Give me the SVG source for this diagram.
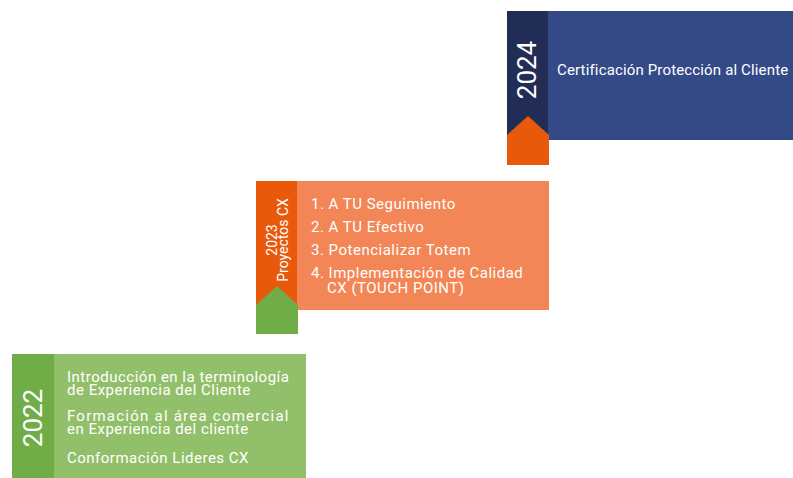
<svg xmlns="http://www.w3.org/2000/svg" width="793" height="478" viewBox="0 0 793 478">
<style>
.t{font-family:Roboto,"Liberation Sans",sans-serif;fill:#ffffff;font-size:15px;letter-spacing:0.5px}
.h{font-family:Roboto,"Liberation Sans",sans-serif;fill:#ffffff;font-size:15px;letter-spacing:0.15px}
.y{font-family:Roboto,"Liberation Sans",sans-serif;fill:#ffffff}
</style>
<rect width="793" height="478" fill="#ffffff"/>
<g id="node-2024">
<rect x="548" y="11" width="245" height="129" fill="#334A87"/>
<rect x="507" y="11" width="41" height="129" fill="#222D55"/>
<polygon points="507,135 528,116 549,135 549,165 507,165" fill="#E8590C"/>
<text class="y" font-size="26" text-anchor="middle" transform="translate(536,70) rotate(-90)">2024</text>
<text class="h" x="557" y="75">Certificación Protección al Cliente</text>
</g>
<g id="node-2023">
<rect x="297" y="181" width="252" height="129" fill="#F38656"/>
<rect x="256" y="181" width="41" height="129" fill="#E8590C"/>
<polygon points="256,305 277,286 298,305 298,334 256,334" fill="#70AD47"/>
<text class="y" font-size="14" text-anchor="middle" transform="translate(277,240) rotate(-90)">2023</text>
<text class="y" font-size="14" text-anchor="middle" transform="translate(288,240) rotate(-90)">Proyectos CX</text>
<text class="t" x="311" y="209">1. A TU Seguimiento</text>
<text class="t" x="311" y="232">2. A TU Efectivo</text>
<text class="t" x="311" y="255">3. Potencializar Totem</text>
<text class="t" x="311" y="278">4. Implementación de Calidad</text>
<text class="t" x="327" y="293">CX (TOUCH POINT)</text>
</g>
<g id="node-2022">
<rect x="54" y="354" width="252" height="124" fill="#92C06A"/>
<rect x="12" y="354" width="42" height="124" fill="#70AD47"/>
<text class="y" font-size="26" text-anchor="middle" transform="translate(42,418) rotate(-90)">2022</text>
<text class="t" x="67" y="382">Introducción en la terminología</text>
<text class="t" x="67" y="394.5">de Experiencia del Cliente</text>
<text class="t" x="67" y="421" textLength="222" lengthAdjust="spacing">Formación al área comercial</text>
<text class="t" x="67" y="433.5">en Experiencia del cliente</text>
<text class="t" x="67" y="463">Conformación Lideres CX</text>
</g>
<g id="connectors"></g>
</svg>
